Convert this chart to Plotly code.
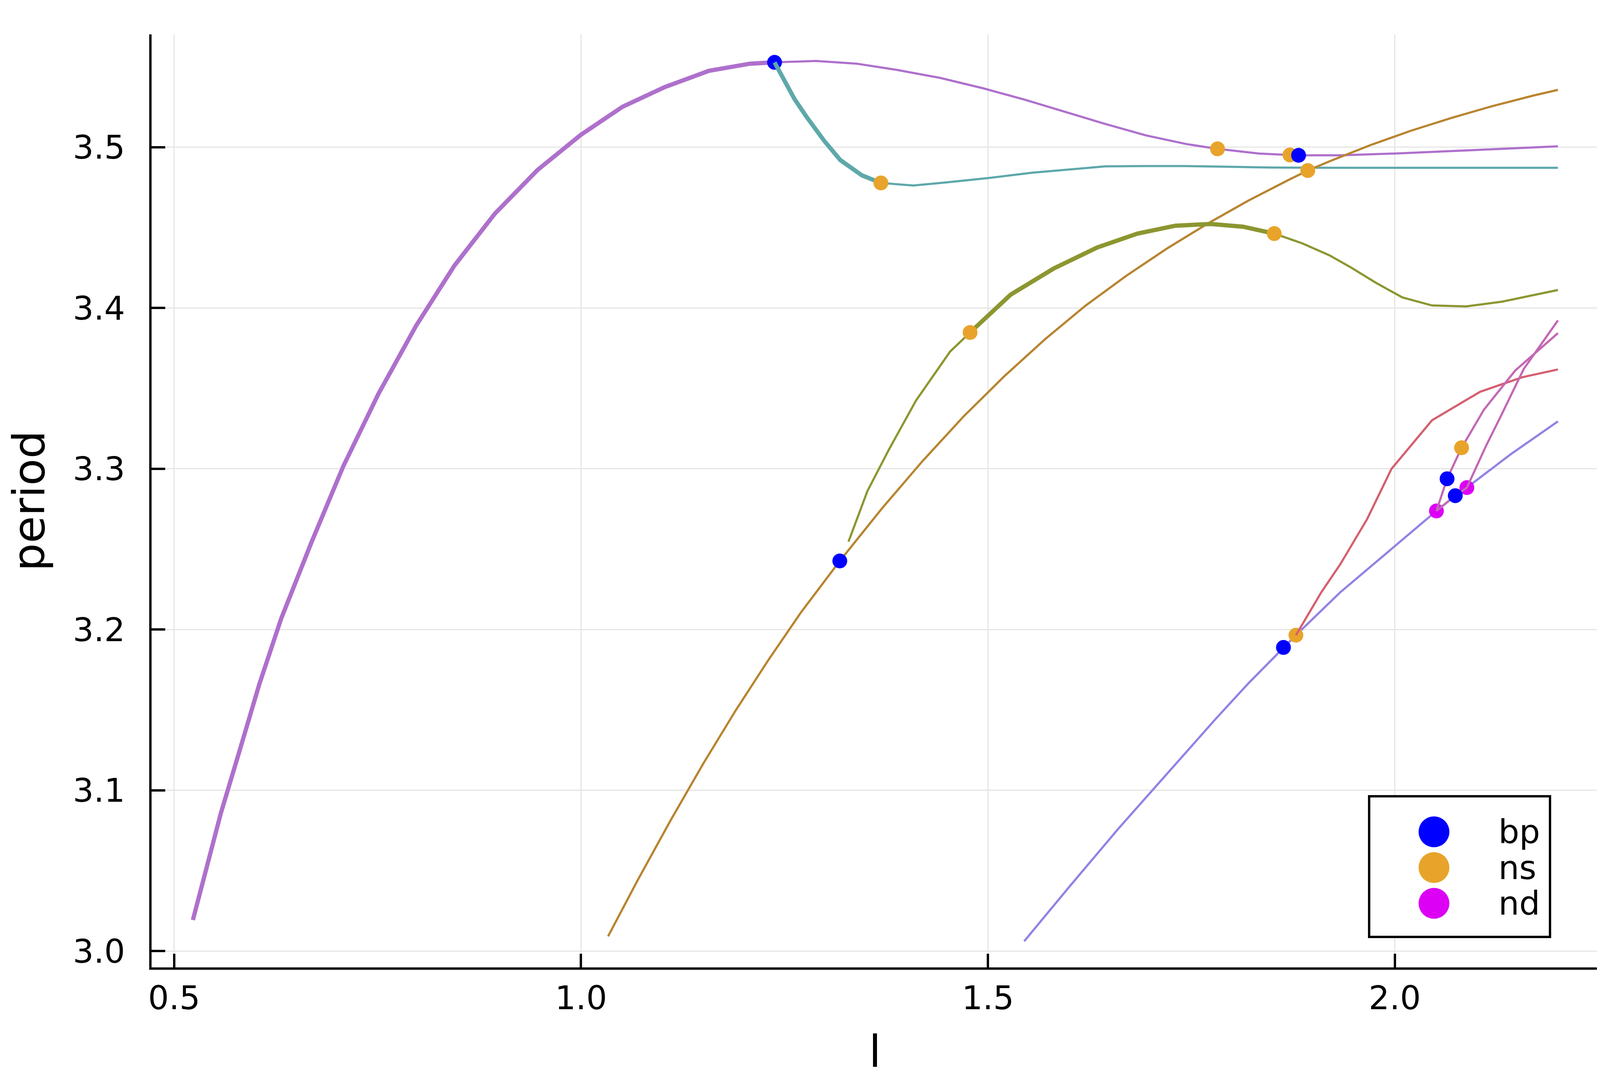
import plotly.graph_objects as go

# branch 1 (purple): stable part, then unstable part
br1_stable_l = [0.5230, 0.5574, 0.5804, 0.6046, 0.6314, 0.6684, 0.7079, 0.7513, 0.7972,
                0.8444, 0.8941, 0.9464, 1.0000, 1.0510, 1.1033, 1.1569, 1.2079, 1.2378]
br1_stable_p = [3.0194, 3.0859, 3.1247, 3.1660, 3.2067, 3.2539, 3.3017, 3.3469, 3.3889,
                3.4264, 3.4587, 3.4858, 3.5078, 3.5252, 3.5375, 3.5475, 3.5520, 3.5528]
br1_l = [1.2378, 1.2888, 1.3386, 1.3884, 1.4416, 1.4947, 1.5445, 1.5943, 1.6441, 1.6939,
         1.7437, 1.7822, 1.8333, 1.8712, 1.8818, 1.9329, 1.9993, 2.0989, 2.2005]
br1_p = [3.5528, 3.5537, 3.5520, 3.5481, 3.5431, 3.5366, 3.5297, 3.5221, 3.5145, 3.5074,
         3.5020, 3.4990, 3.4961, 3.4952, 3.4950, 3.4950, 3.4961, 3.4983, 3.5006]

# branch 2 (teal)
br2_stable_l = [1.2378, 1.2500, 1.2623, 1.2770, 1.2988, 1.3187, 1.3453, 1.3685]
br2_stable_p = [3.5528, 3.5420, 3.5300, 3.5190, 3.5040, 3.4920, 3.4825, 3.4778]
br2_l = [1.3685, 1.4084, 1.4482, 1.5013, 1.5544, 1.6441, 1.6939, 1.7404, 1.7935, 1.8466,
         1.9462, 2.0458, 2.2005]
br2_p = [3.4778, 3.4762, 3.4781, 3.4809, 3.4842, 3.4881, 3.4883, 3.4883, 3.4879, 3.4874,
         3.4872, 3.4871, 3.4872]

# branch 3 (brown)
br3_l = [1.0332, 1.0700, 1.1100, 1.1500, 1.1900, 1.2300, 1.2700, 1.3180, 1.3700, 1.4200,
         1.4700, 1.5200, 1.5700, 1.6200, 1.6700, 1.7200, 1.7700, 1.8200, 1.8700, 1.8931,
         1.9200, 1.9700, 2.0200, 2.0700, 2.1200, 2.1700, 2.2005]
br3_p = [3.0092, 3.0445, 3.0813, 3.1165, 3.1497, 3.1809, 3.2105, 3.2427, 3.2755, 3.3050,
         3.3325, 3.3575, 3.3805, 3.4015, 3.4200, 3.4370, 3.4525, 3.4668, 3.4798, 3.4855,
         3.4913, 3.5013, 3.5103, 3.5183, 3.5256, 3.5321, 3.5357]

# branch 4 (olive): unstable, stable, unstable
br4_low_l = [1.3287, 1.3519, 1.3785, 1.4117, 1.4535, 1.4781]
br4_low_p = [3.2547, 3.2861, 3.3121, 3.3425, 3.3729, 3.3848]
br4_stable_l = [1.4781, 1.5279, 1.5810, 1.6341, 1.6839, 1.7304, 1.7736, 1.8134, 1.8519]
br4_stable_p = [3.3848, 3.4083, 3.4246, 3.4376, 3.4463, 3.4512, 3.4523, 3.4506, 3.4463]
br4_l = [1.8519, 1.8865, 1.9197, 1.9462, 1.9761, 2.0093, 2.0458, 2.0876, 2.1321, 2.2005]
br4_p = [3.4463, 3.4402, 3.4328, 3.4252, 3.4159, 3.4066, 3.4016, 3.4010, 3.4040, 3.4112]

# branch 5 (lavender)
br5_l = [1.5446, 1.6000, 1.6600, 1.7200, 1.7800, 1.8200, 1.8632, 1.8785, 1.9330, 1.9861,
         2.0512, 2.0744, 2.0886, 2.1421, 2.2005]
br5_p = [3.0062, 3.0400, 3.0760, 3.1105, 3.1445, 3.1665, 3.1889, 3.1965, 3.2232, 3.2460,
         3.2738, 3.2833, 3.2883, 3.3089, 3.3295]

# branch 6 (red)
br6_l = [1.8785, 1.9097, 1.9330, 1.9661, 1.9960, 2.0458, 2.1048, 2.1570, 2.2005]
br6_p = [3.1965, 3.2232, 3.2406, 3.2688, 3.3000, 3.3302, 3.3479, 3.3570, 3.3618]

# branches 7 and 8 (pink)
br7_l = [2.0512, 2.0643, 2.0821, 2.1096, 2.1480, 2.2005]
br7_p = [3.2738, 3.2938, 3.3131, 3.3368, 3.3611, 3.3844]
br8_l = [2.0512, 2.0744, 2.0886, 2.1120, 2.1296, 2.1584, 2.2005]
br8_p = [3.2738, 3.2833, 3.2883, 3.3141, 3.3320, 3.3620, 3.3923]

# special points and the branch they sit on
bp_l = [1.2378, 1.8818, 1.3180, 1.8632, 2.0643, 2.0744]
bp_p = [3.5528, 3.4950, 3.2427, 3.1889, 3.2938, 3.2833]
bp_br = [1, 1, 3, 5, 7, 8]
ns_l = [1.7822, 1.8712, 1.3685, 1.8931, 1.4781, 1.8519, 1.8785, 2.0821]
ns_p = [3.4990, 3.4952, 3.4778, 3.4855, 3.3848, 3.4463, 3.1965, 3.3131]
ns_br = [1, 1, 2, 3, 4, 4, 5, 7]
nd_l = [2.0512, 2.0886]
nd_p = [3.2738, 3.2883]
nd_br = [5, 5]

legend_names = ["bp", "ns", "nd"]

THIN = 5.5
THICK = 11
FONT = "DejaVu Sans"
point_colors = {"bp": "#0000FF", "ns": "#E8A42A", "nd": "#DC00F5"}

branches = [
    (1, "#AE70CC", [(br1_stable_l, br1_stable_p, THICK), (br1_l, br1_p, THIN)]),
    (2, "#5EA8AA", [(br2_stable_l, br2_stable_p, THICK), (br2_l, br2_p, THIN)]),
    (3, "#B8842F", [(br3_l, br3_p, THIN)]),
    (4, "#8C9630", [(br4_low_l, br4_low_p, THIN), (br4_stable_l, br4_stable_p, THICK),
                    (br4_l, br4_p, THIN)]),
    (5, "#9282E4", [(br5_l, br5_p, THIN)]),
    (6, "#D4606F", [(br6_l, br6_p, THIN)]),
    (7, "#C368B4", [(br7_l, br7_p, THIN)]),
    (8, "#C368B4", [(br8_l, br8_p, THIN)]),
]
points = [("ns", ns_l, ns_p, ns_br), ("nd", nd_l, nd_p, nd_br), ("bp", bp_l, bp_p, bp_br)]

fig = go.Figure()
for num, color, parts in branches:
    for xs, ys, w in parts:
        fig.add_trace(go.Scatter(x=xs, y=ys, mode="lines", showlegend=False,
                                 line=dict(color=color, width=w)))
    for name, xs, ys, brs in points:
        px_ = [x for x, b in zip(xs, brs) if b == num]
        py_ = [y for y, b in zip(ys, brs) if b == num]
        if px_:
            fig.add_trace(go.Scatter(x=px_, y=py_, mode="markers", name=name, showlegend=False,
                                     marker=dict(color=point_colors[name], size=38, line_width=0)))

# legend box drawn by hand so the markers can be as big as in the original
L, R, T, B = 380, 82, 80, 309
W, H = 4166, 2777
pw, ph = W - L - R, H - T - B


def px(x):
    return (x - L) / pw


def py(y):
    return (H - B - y) / ph


fig.add_shape(type="rect", xref="paper", yref="paper", x0=px(3497), x1=px(3960),
              y0=py(2390), y1=py(2030), line=dict(color="black", width=6),
              fillcolor="white", layer="above")
for i, name in enumerate(legend_names):
    cy = py(2121 + 91.5 * i)
    fig.add_shape(type="circle", xref="paper", yref="paper", xsizemode="pixel",
                  ysizemode="pixel", xanchor=px(3663), yanchor=cy, x0=-39.5, x1=39.5,
                  y0=-39.5, y1=39.5, fillcolor=point_colors[name], line_width=0,
                  layer="above")
    fig.add_annotation(x=px(3826), y=cy, xref="paper", yref="paper", text=name,
                       showarrow=False, xanchor="left", yanchor="middle",
                       font=dict(family=FONT, size=84, color="black"))

axis_common = dict(showgrid=True, gridcolor="#E6E6E6", gridwidth=3, zeroline=False,
                   showline=True, linecolor="black", linewidth=6, ticks="inside",
                   ticklen=35, tickwidth=6, tickcolor="black", tickformat=".1f",
                   tickfont=dict(family=FONT, size=84, color="black"), mirror=False)

fig.update_layout(
    width=W, height=H,
    margin=dict(l=L, r=R, t=T, b=B),
    paper_bgcolor="white", plot_bgcolor="white",
    showlegend=False,
    xaxis=dict(range=[0.4722, 2.2503], tickvals=[0.5, 1.0, 1.5, 2.0],
               title=dict(text="l", font=dict(family=FONT, size=113, color="black"),
                          standoff=51),
               ticklabelstandoff=0, **axis_common),
    yaxis=dict(range=[2.9899, 3.5702], tickvals=[3.0, 3.1, 3.2, 3.3, 3.4, 3.5],
               title=dict(text="period", font=dict(family=FONT, size=113, color="black"),
                          standoff=50),
               ticklabelstandoff=45, **axis_common),
)

fig.write_html("out.html")
